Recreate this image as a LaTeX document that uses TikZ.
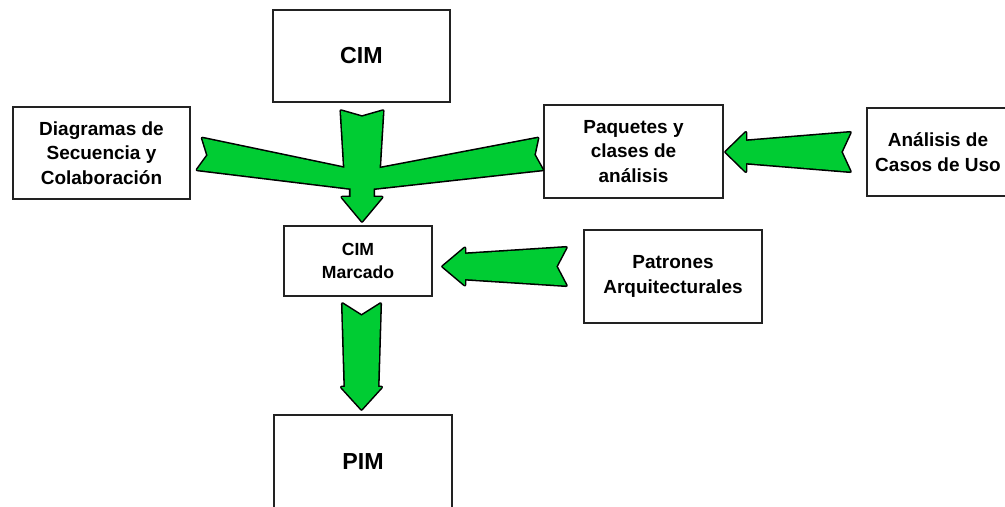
\documentclass[tikz,border=0pt]{standalone}
\usepackage{fontspec}
\setmainfont{Liberation Sans}
\usetikzlibrary{calc}
\definecolor{ArrowGreen}{HTML}{00CC33}
\definecolor{BoxLine}{HTML}{222222}

% one pixel of the drawing
\newcommand{\px}{0.025cm}

% block arrow corners: name, tail, tip, tail half width, shaft half width,
% head half width, head length, tail notch depth
\newcommand{\setarrow}[8]{%
  \coordinate (#1-h) at ($(#3)!#7*\px!(#2)$);
  \coordinate (#1-1) at ($(#2)!#4*\px!90:(#3)$);
  \coordinate (#1-2) at ($(#1-h)!#5*\px!-90:(#2)$);
  \coordinate (#1-3) at ($(#1-h)!#6*\px!-90:(#2)$);
  \coordinate (#1-4) at (#3);
  \coordinate (#1-5) at ($(#1-h)!#6*\px!90:(#2)$);
  \coordinate (#1-6) at ($(#1-h)!#5*\px!90:(#2)$);
  \coordinate (#1-7) at ($(#2)!#4*\px!-90:(#3)$);
  \coordinate (#1-8) at ($(#2)!#8*\px!(#3)$);
}

\tikzset{
  box/.style={draw=BoxLine,line width=1.1pt,fill=white,align=center,inner sep=0pt,
    font=\bfseries\fontsize{13.5}{17.4}\selectfont},
  boxsize/.style 2 args={minimum width=#1*\px,minimum height=#2*\px},
  bigtext/.style={font=\bfseries\fontsize{16.5}{20}\selectfont},
  smalltext/.style={font=\bfseries\fontsize{12.5}{16.4}\selectfont},
  arrowedge/.style={draw=black,line width=2.2pt,line join=round},
  arrowbody/.style={fill=ArrowGreen}
}

\begin{document}
\begin{tikzpicture}[x=0.025cm,y=-0.025cm]
  \useasboundingbox (0,0) rectangle (1005,506);

  % Boxes
  \node[box,bigtext,boxsize={177}{92}] (cim) at (361.5,56) {CIM};
  \node[box,boxsize={177}{92}] (diag) at (101.5,153) {Diagramas de\\Secuencia y\\Colaboración};
  \node[box,boxsize={179}{93}] (paq) at (633.5,151.5) {Paquetes y\\clases de\\análisis};
  \node[box,boxsize={142}{88}] (ana) at (938,152) {Análisis de\\Casos de Uso};
  \node[box,smalltext,boxsize={148}{70}] (marc) at (358,261) {CIM\\Marcado};
  \node[box,boxsize={178}{93}] (pat) at (673,276.5) {Patrones\\Arquitecturales};
  \node[box,bigtext,boxsize={178}{94}] (pim) at (363,462) {PIM};

  % CIM down to CIM Marcado, in two pieces
  \coordinate (c0) at ($(cim.south)+(0.5,8)$);
  \coordinate (c1) at ($(c0)+(0,66)$);
  \coordinate (c2) at ($(c0 |- marc.north)+(0,-4)$);
  \setarrow{up}{c0}{c1}{21}{17}{17}{0}{6}
  \setarrow{down}{c1}{c2}{11.5}{11.5}{20}{24}{0}

  % side arms joining the central arrow
  \coordinate (l0) at ($(diag.east)+(9,1)$);
  \coordinate (l1) at ($(c0)+(0,70)$);
  \coordinate (r0) at ($(paq.west)+(-3,2.5)$);
  \setarrow{left}{l0}{l1}{16}{9}{9}{0}{8}
  \setarrow{right}{r0}{l1}{16}{9}{9}{0}{6}

  % CIM Marcado down to PIM
  \coordinate (m0) at ($(pim.north |- marc.south)+(-1.5,7)$);
  \coordinate (m1) at ($(pim.north)+(-1.5,-5)$);
  \setarrow{pim}{m0}{m1}{19}{16.5}{20}{22}{12}

  % Patrones into CIM Marcado
  \coordinate (p0) at ($(pat.west)+(-17,-10)$);
  \coordinate (p1) at ($(p0 -| marc.east)+(10,0)$);
  \setarrow{pat}{p0}{p1}{19}{12.5}{18.5}{22}{10}

  % Analisis de casos de uso into Paquetes
  \coordinate (a0) at ($(ana.west)+(-16,0)$);
  \coordinate (a1) at ($(a0 -| paq.east)+(2,0)$);
  \setarrow{ana}{a0}{a1}{19.5}{11}{19.5}{20}{9}

  % outline first, then fill on top so joined arrows merge
  \foreach \arr in {up,down,left,right,pim,pat,ana}
    \draw[arrowedge] (\arr-1) -- (\arr-2) -- (\arr-3) -- (\arr-4) -- (\arr-5)
      -- (\arr-6) -- (\arr-7) -- (\arr-8) -- cycle;
  \foreach \arr in {up,down,left,right,pim,pat,ana}
    \fill[arrowbody] (\arr-1) -- (\arr-2) -- (\arr-3) -- (\arr-4) -- (\arr-5)
      -- (\arr-6) -- (\arr-7) -- (\arr-8) -- cycle;
\end{tikzpicture}
\end{document}
